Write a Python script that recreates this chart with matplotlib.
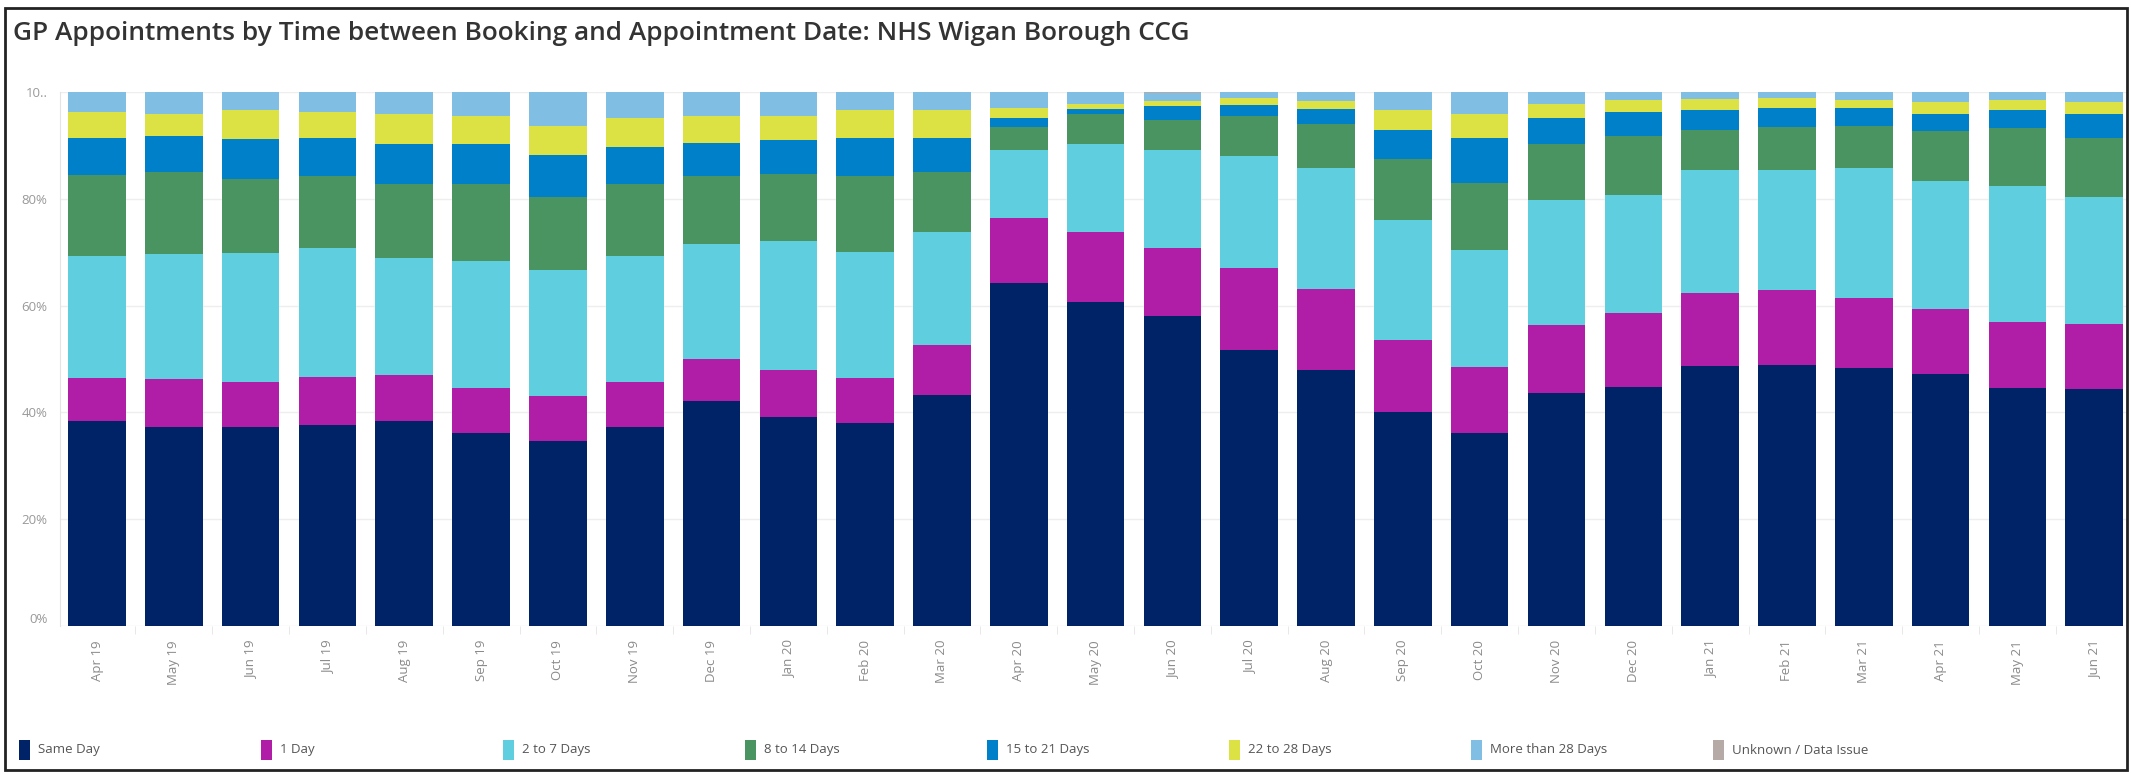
import matplotlib
matplotlib.use("Agg")
import matplotlib.pyplot as plt
import numpy as np
from matplotlib.patches import Rectangle

plt.rcParams['font.family'] = ['Open Sans', 'DejaVu Sans']

months = ['Apr 19', 'May 19', 'Jun 19', 'Jul 19', 'Aug 19', 'Sep 19', 'Oct 19', 'Nov 19', 'Dec 19',
          'Jan 20', 'Feb 20', 'Mar 20', 'Apr 20', 'May 20', 'Jun 20', 'Jul 20', 'Aug 20', 'Sep 20',
          'Oct 20', 'Nov 20', 'Dec 20', 'Jan 21', 'Feb 21', 'Mar 21', 'Apr 21', 'May 21', 'Jun 21']

# share of appointments (%) per booking-to-appointment interval
same_day = [38.4, 37.3, 37.3, 37.7, 38.4, 36.2, 34.7, 37.3, 42.2, 39.2, 38.0, 43.2, 64.3, 60.6,
            58.0, 51.6, 47.9, 40.0, 36.2, 43.7, 44.7, 48.6, 48.9, 48.4, 47.1, 44.6, 44.4]
one_day = [8.0, 8.9, 8.3, 9.0, 8.6, 8.3, 8.3, 8.3, 7.8, 8.7, 8.4, 9.5, 12.1, 13.2,
           12.7, 15.4, 15.2, 13.5, 12.3, 12.6, 13.9, 13.7, 14.1, 13.0, 12.3, 12.3, 12.2]
two_to_7 = [22.8, 23.4, 24.3, 24.1, 21.9, 23.8, 23.6, 23.6, 21.5, 24.2, 23.6, 21.0, 12.7, 16.4,
            18.5, 21.1, 22.7, 22.5, 21.9, 23.4, 22.2, 23.0, 22.3, 24.3, 24.0, 25.5, 23.8]
eight_to_14 = [15.2, 15.4, 13.9, 13.5, 13.8, 14.4, 13.8, 13.5, 12.7, 12.5, 14.2, 11.3, 4.4, 5.7,
               5.6, 7.4, 8.2, 11.4, 12.5, 10.5, 10.9, 7.6, 8.2, 8.0, 9.3, 10.8, 11.0]
fifteen_to_21 = [7.0, 6.7, 7.4, 7.0, 7.6, 7.6, 7.8, 7.0, 6.3, 6.4, 7.2, 6.4, 1.6, 1.0,
                 2.5, 2.0, 2.8, 5.5, 8.5, 4.9, 4.5, 3.7, 3.5, 3.3, 3.2, 3.4, 4.5]
twentytwo_to_28 = [4.9, 4.2, 5.4, 5.0, 5.6, 5.2, 5.5, 5.4, 5.0, 4.5, 5.3, 5.2, 1.9, 0.9,
                   1.0, 1.4, 1.6, 3.7, 4.5, 2.7, 2.3, 2.0, 1.9, 1.5, 2.2, 1.9, 2.2]
over_28 = [3.7, 4.1, 3.4, 3.7, 4.1, 4.5, 6.3, 4.9, 4.5, 4.5, 3.3, 3.4, 3.0, 2.2,
           1.5, 1.1, 1.6, 3.4, 4.1, 2.2, 1.5, 1.4, 1.1, 1.5, 1.9, 1.5, 1.9]
unknown = [0, 0, 0, 0, 0, 0, 0, 0, 0, 0, 0, 0, 0, 0,
           0.2, 0, 0, 0, 0, 0, 0, 0, 0, 0, 0, 0, 0]

series = [same_day, one_day, two_to_7, eight_to_14, fifteen_to_21, twentytwo_to_28, over_28, unknown]
labels = ['Same Day', '1 Day', '2 to 7 Days', '8 to 14 Days', '15 to 21 Days',
          '22 to 28 Days', 'More than 28 Days', 'Unknown / Data Issue']
colors = ['#002266', '#B01EA8', '#5FCFE0', '#4A9462', '#0080C8', '#DDE244', '#80BFE3', '#B5AAA5']

W, H = 2131, 775
fig = plt.figure(figsize=(W / 100, H / 100), dpi=100)

# plot area in pixels: left 60, right 2128, 100% at y=92, 0% at y=626
ax = fig.add_axes([60 / W, (H - 626) / H, (2128 - 60) / W, (626 - 92) / H])

x = np.arange(len(months))
bottom = np.zeros(len(months))
for vals, col in zip(series, colors):
    vals = np.array(vals)
    ax.bar(x, vals, bottom=bottom, width=0.75, color=col, edgecolor='none', zorder=3)
    bottom += vals

ax.set_xlim(-0.482, 26.44)
ax.set_ylim(0, 100)

ax.set_yticks([0, 20, 40, 60, 80, 100])
ax.set_yticklabels(['0%', '20%', '40%', '60%', '80%', '10..'])
ax.yaxis.grid(True, color='#EEEEEE', linewidth=1, zorder=0)
ax.tick_params(axis='y', length=0, pad=9, labelsize=9.5, labelcolor='#999999')
ax.get_yticklabels()[0].set_verticalalignment('bottom')

ax.set_xticks(x)
ax.set_xticklabels(months, rotation=90, va='top')
ax.tick_params(axis='x', length=0, pad=10, labelsize=9.5, labelcolor='#8a8a8a')
# faint column dividers under the bars
ax.set_xticks(x[:-1] + 0.5, minor=True)
ax.tick_params(axis='x', which='minor', length=6, color='#E4E4E4')

for side in ['top', 'right', 'bottom']:
    ax.spines[side].set_visible(False)
ax.spines['left'].set_color('#E4E4E4')

fig.text(13 / W, 1 - 33 / H, 'GP Appointments by Time between Booking and Appointment Date: NHS Wigan Borough CCG',
         fontsize=18.9, fontweight='semibold', color='#333333', ha='left', va='center')

# legend row along the bottom
for i, (lab, col) in enumerate(zip(labels, colors)):
    x0 = 19 + i * 242
    fig.add_artist(Rectangle((x0 / W, (H - 760) / H), 11 / W, 20 / H,
                             transform=fig.transFigure, color=col, lw=0))
    fig.text((x0 + 19) / W, 1 - 750 / H, lab, fontsize=9.5, color='#555555', ha='left', va='center')

# outer frame
fig.add_artist(Rectangle((5 / W, 5 / H), (W - 9) / W, (H - 13) / H, transform=fig.transFigure,
                         fill=False, edgecolor='#222222', lw=2))

fig.savefig('out.png', dpi=100)
